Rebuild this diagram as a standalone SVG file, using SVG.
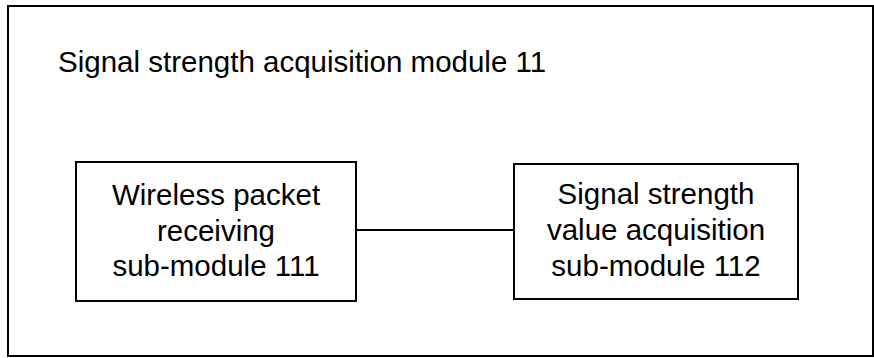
<svg xmlns="http://www.w3.org/2000/svg" width="874" height="358" viewBox="0 0 874 358">
<style>
.box{fill:#fff;stroke:#000;stroke-width:2}
.t{font-family:"Liberation Sans",Arial,sans-serif;font-size:29.5px;fill:#000}
.c{text-anchor:middle}
.ln{stroke:#000;stroke-width:2;fill:none}
</style>
<rect x="0" y="0" width="874" height="358" fill="#fff"/>
<g id="outer">
<rect class="box" x="8" y="6" width="865" height="350"/>
<text class="t" x="58" y="72">Signal strength acquisition module 11</text>
</g>
<g id="connectors">
<line class="ln" x1="356" y1="230" x2="514" y2="230"/>
</g>
<g id="node111">
<rect class="box" x="76" y="162" width="280" height="139"/>
<text class="t c" x="216" y="205">Wireless packet</text>
<text class="t c" x="216" y="240.5">receiving</text>
<text class="t c" x="216" y="276">sub-module 111</text>
</g>
<g id="node112">
<rect class="box" x="514" y="164" width="284" height="135"/>
<text class="t c" x="656" y="204">Signal strength</text>
<text class="t c" x="656" y="240">value acquisition</text>
<text class="t c" x="656" y="276">sub-module 112</text>
</g>
</svg>
